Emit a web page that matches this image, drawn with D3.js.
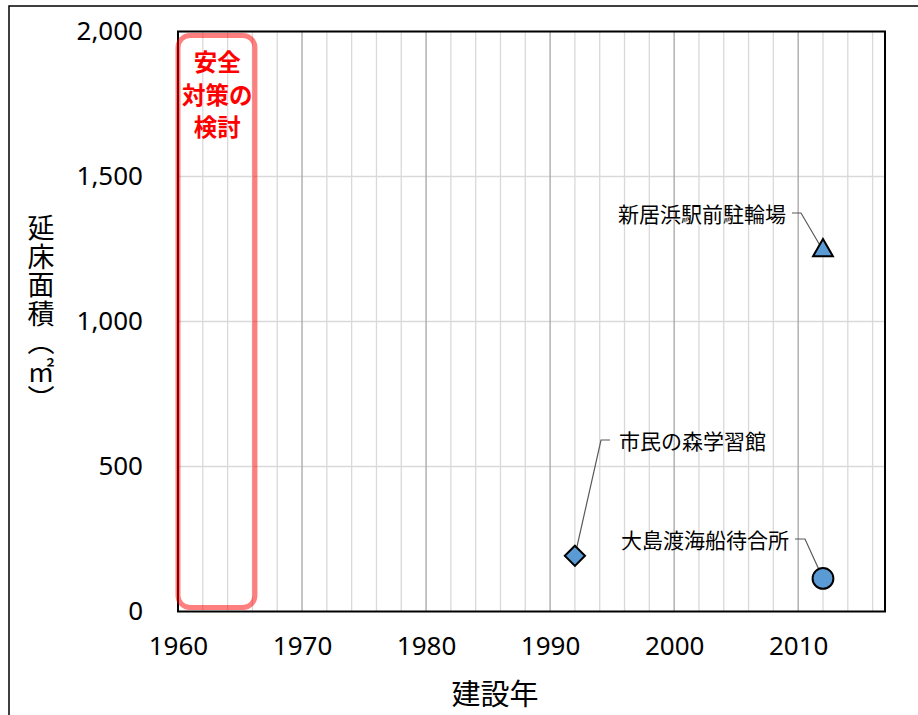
<!DOCTYPE html>
<html><head><meta charset="utf-8">
<script src="https://cdn.jsdelivr.net/npm/d3@7"></script>
<style>body{margin:0;background:#fff}svg{display:block}</style>
</head><body>
<svg id="c" width="918" height="715"></svg>
<script>
const names = ["市民の森学習館", "新居浜駅前駐輪場", "大島渡海船待合所"];
const years = [1992, 2012, 2012];
const areas = [192, 1245, 114];
const shapes = ["diamond", "triangle", "circle"];
const yTicks = [0, 500, 1000, 1500, 2000];
const xTicks = [1960, 1970, 1980, 1990, 2000, 2010];
const xDomain = [1960, 2017];
const yDomain = [0, 2000];
const xTitle = "建設年";
const yTitle = "延床面積（㎡）";
const bandYears = [1960, 1966];
const bandLabel = ["安全", "対策の", "検討"];

const svg = d3.select("#c");
const L = 178, R = 885, T = 31.5, B = 611.5;
const x = d3.scaleLinear().domain(xDomain).range([L, R]);
const y = d3.scaleLinear().domain(yDomain).range([B, T]);
const num = "'Noto Sans', sans-serif";
const jp = "'Noto Sans CJK JP', sans-serif";

// outer frame
svg.append("rect").attr("x", 9).attr("y", 6).attr("width", 1000).attr("height", 1000)
  .attr("fill", "none").attr("stroke", "#000").attr("stroke-width", 1.5);

// minor vertical grid (every 2 years)
const minor = d3.range(xDomain[0] + 2, xDomain[1] + 1, 2).filter(v => v % 10 !== 0);
svg.append("g").selectAll("line").data(minor).join("line")
  .attr("x1", d => x(d)).attr("x2", d => x(d)).attr("y1", T).attr("y2", B)
  .attr("stroke", "#d9d9d9").attr("stroke-width", 1.3);
// horizontal grid
svg.append("g").selectAll("line").data(yTicks.slice(1)).join("line")
  .attr("x1", L).attr("x2", R).attr("y1", d => y(d)).attr("y2", d => y(d))
  .attr("stroke", "#d9d9d9").attr("stroke-width", 1.3);
// major vertical grid
svg.append("g").selectAll("line").data(xTicks.slice(1)).join("line")
  .attr("x1", d => x(d)).attr("x2", d => x(d)).attr("y1", T).attr("y2", B)
  .attr("stroke", "#a6a6a6").attr("stroke-width", 1.3);

// plot border
svg.append("rect").attr("x", L).attr("y", T).attr("width", R - L).attr("height", B - T)
  .attr("fill", "none").attr("stroke", "#000").attr("stroke-width", 2);

// axes (labels only)
const yAxis = svg.append("g").attr("transform", `translate(${L},0)`)
  .call(d3.axisLeft(y).tickValues(yTicks).tickSize(0).tickPadding(35).tickFormat(d3.format(",")));
yAxis.select(".domain").remove();
yAxis.selectAll("text").attr("font-family", num).attr("font-size", 26).attr("fill", "#000");

const xAxis = svg.append("g").attr("transform", `translate(0,${B})`)
  .call(d3.axisBottom(x).tickValues(xTicks).tickSize(0).tickPadding(25).tickFormat(d3.format("d")));
xAxis.select(".domain").remove();
xAxis.selectAll("text").attr("font-family", num).attr("font-size", 26).attr("fill", "#000");

// axis titles
svg.append("text").attr("x", 495).attr("y", 705).attr("text-anchor", "middle")
  .attr("font-family", jp).attr("font-size", 29).attr("fill", "#000").text(xTitle);
svg.append("text").attr("x", 41).attr("y", 314).attr("text-anchor", "middle")
  .style("writing-mode", "vertical-rl").style("letter-spacing", "1.5px")
  .attr("font-family", jp).attr("font-size", 27).attr("fill", "#000").text(yTitle);

// highlighted band
svg.append("rect").attr("x", x(bandYears[0])).attr("y", T + 4)
  .attr("width", x(bandYears[1]) - x(bandYears[0]) + 2.5).attr("height", B - T - 8)
  .attr("rx", 12).attr("fill", "none").attr("stroke", "#ff0000").attr("stroke-opacity", 0.5)
  .attr("stroke-width", 5);
const bcx = (x(bandYears[0]) + x(bandYears[1])) / 2 + 2;
svg.append("g").selectAll("text").data(bandLabel).join("text")
  .attr("x", bcx).attr("y", (d, i) => 71 + i * 32.5).attr("text-anchor", "middle")
  .attr("font-family", jp).attr("font-weight", "bold").attr("font-size", 23.5)
  .attr("fill", "#ff0000").text(d => d);

// leader lines + labels
const labelPos = [
  {tx: 619, ty: 449, anchor: "start", lx: [610, 601]},
  {tx: 786, ty: 222, anchor: "end", lx: [792, 801]},
  {tx: 789, ty: 548, anchor: "end", lx: [795, 805]}
];
const pts = names.map((n, i) => ({name: n, year: years[i], area: areas[i], shape: shapes[i], lp: labelPos[i]}));
svg.append("g").selectAll("path").data(pts).join("path")
  .attr("d", d => `M${d.lp.lx[0]},${d.lp.ty - 9}L${d.lp.lx[1]},${d.lp.ty - 9}L${x(d.year)},${y(d.area)}`)
  .attr("fill", "none").attr("stroke", "#595959").attr("stroke-width", 1.2);
svg.append("g").selectAll("text").data(pts).join("text")
  .attr("x", d => d.lp.tx).attr("y", d => d.lp.ty).attr("text-anchor", d => d.lp.anchor)
  .attr("font-family", jp).attr("font-size", 21).attr("fill", "#000").text(d => d.name);

// markers
const sym = {diamond: d3.symbolDiamond2, triangle: d3.symbolTriangle2, circle: d3.symbolCircle};
const size = {diamond: 260, triangle: 280, circle: 340};
svg.append("g").selectAll("path").data(pts).join("path")
  .attr("transform", d => `translate(${x(d.year)},${y(d.area)})`)
  .attr("d", d => d3.symbol().type(sym[d.shape]).size(size[d.shape])())
  .attr("fill", "#5b9bd5").attr("stroke", "#000").attr("stroke-width", 2);
</script>
</body></html>
